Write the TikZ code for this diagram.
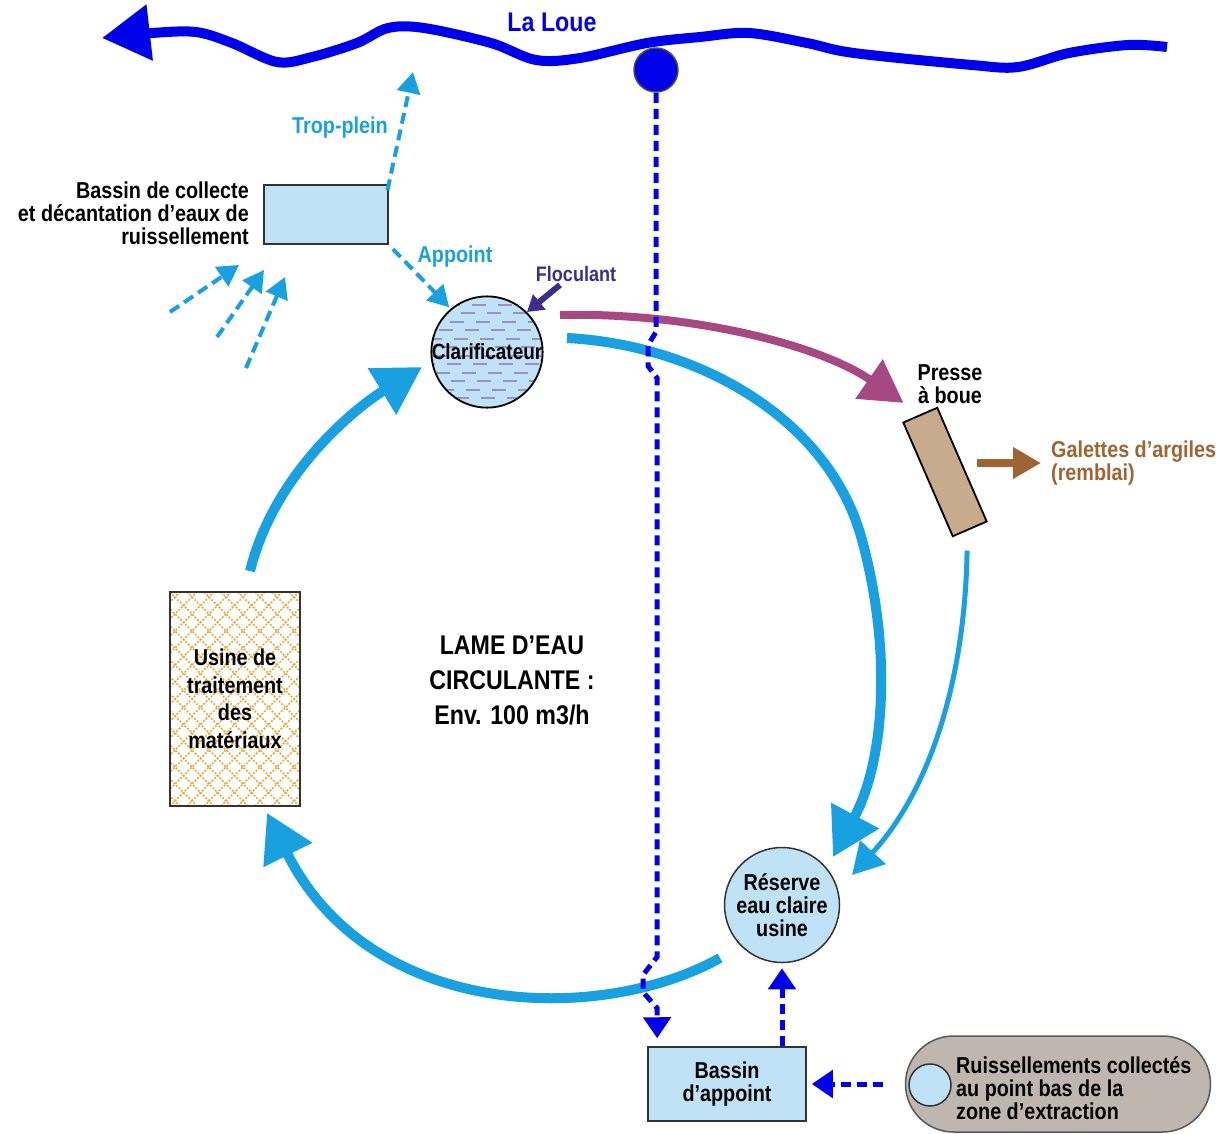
\documentclass[tikz,border=0pt]{standalone}
\usepackage{fontspec}
\setmainfont{Liberation Sans}[FakeStretch=0.86]
\usetikzlibrary{positioning, arrows.meta, calc}
\definecolor{riverblue}{RGB}{0, 0, 235}
\definecolor{flowcyan}{RGB}{25, 160, 225}
\definecolor{waterfill}{RGB}{192, 226, 246}
\definecolor{sludge}{RGB}{168, 72, 130}
\definecolor{flocviolet}{RGB}{62, 45, 140}
\definecolor{claybrown}{RGB}{160, 100, 50}
\definecolor{presstan}{RGB}{200, 170, 140}
\definecolor{pitgray}{RGB}{192, 182, 176}
\definecolor{hatchorange}{RGB}{232, 170, 60}
\definecolor{rippleviolet}{RGB}{160, 140, 200}

\begin{document}
\begin{tikzpicture}[
        x=1pt, y=-1pt,
        txt/.style={font=\fontsize{23}{23}\selectfont\bfseries, align=center, inner sep=0pt},
        basin/.style={draw=black!80, line width=1.5pt, fill=waterfill},
        flow/.style={flowcyan, line width=10pt, -{Triangle[length=47pt, width=52pt]}},
        thinflow/.style={flowcyan, line width=5pt, -{Triangle[length=31pt, width=34pt]}},
        supply/.style={riverblue, line width=5pt, dash pattern=on 10pt off 6pt, -{Triangle[length=21pt, width=27pt]}},
        runoff/.style={flowcyan, line width=4pt, dash pattern=on 11pt off 6pt, -{Triangle[length=21pt, width=23pt]}},
        lattice/.style={hatchorange, line width=1.5pt, dash pattern=on 2pt off 1.5pt}
    ]
    \useasboundingbox (0,0) rectangle (1232,1133);

    % La Loue, flowing to the left
    \draw[riverblue, line width=10pt, -{Triangle[length=48pt, width=54pt]}]
        plot[smooth, tension=0.55] coordinates {(1167,47) (1128,45) (1069,53) (1018,67) (972,65)
        (854,53) (807,43) (749,33) (700,37) (647,43) (580,58) (536,60) (491,43) (424,28) (388,28)
        (357,43) (312,57) (277,62) (232,43) (196,32) (152,33) (102,38)};
    \node[txt, text=riverblue, font=\fontsize{27}{27}\selectfont\bfseries] (loue) at (552,22) {La Loue};
    \node[circle, draw=black!70, line width=1.5pt, fill=riverblue, minimum size=44pt, inner sep=0pt] (pump) at (656,70) {};

    % Bassin de collecte (eaux de ruissellement)
    \node[basin, minimum width=124pt, minimum height=59pt] (collecte) at (326,214.5) {};
    \node[txt, align=right, anchor=east] (collecteLbl) at (249,213) {Bassin de collecte\\et décantation d’eaux de\\ruissellement};
    \coordinate (tropEnd) at (413,72);
    \draw[runoff, shorten <=-6pt] (collecte.north east) -- (tropEnd);
    \node[txt, text=flowcyan] (tropLbl) at (340,128) {Trop-plein};
    \foreach \sx/\sy/\ex/\ey in {170/312/239/265, 217/337/264/270, 246/368/285/277}
        \draw[runoff] (\sx,\sy) -- (\ex,\ey);

    % Clarificateur
    \node[txt, circle, draw=black, line width=1.8pt, fill=waterfill, minimum size=110pt,
        font=\fontsize{22}{22}\selectfont\bfseries,
        path picture={
            \foreach \r in {1,...,12}{
                \pgfmathsetmacro\ph{mod(\r*11,26)}
                \draw[rippleviolet, line width=2pt, dash pattern=on 14pt off 12pt, dash phase=\ph pt]
                    ([yshift=-\r*8.5pt]path picture bounding box.north west) -- ++(120,0);
            }
        }] (clar) at (487,352) {Clarificateur};
    \draw[runoff, shorten <=6pt, shorten >=2pt] (collecte.south east) -- (clar.130);
    \node[txt, text=flowcyan] (appointLbl) at (455,257) {Appoint};
    \node[txt, text=flocviolet, font=\fontsize{21}{21}\selectfont\bfseries] (floc) at (576,274) {Floculant};
    \draw[flocviolet, line width=6pt, -{Triangle[length=16pt, width=19pt]}] ($(floc.south)+(-16,3)$) -- (clar.45);

    % Presse a boue
    \node[draw=black, line width=1.8pt, fill=presstan, minimum width=124pt, minimum height=37pt, rotate=-66.5] (presse) at (945,472) {};
    \node[txt] (presseLbl) at (950,384) {Presse\\à boue};
    \draw[sludge, line width=8pt, -{Triangle[length=42pt, width=46pt]}, shorten >=20pt]
        ($(clar.center)+(73,-37)$) .. controls (690,312) and (820,345) .. (presse.west);
    \node[txt, text=claybrown, align=left, anchor=west] (galettes) at (1051,463) {Galettes d’argiles\\(remblai)};
    \draw[claybrown, line width=8pt, -{Triangle[length=28pt, width=30pt]}] ($(presse.center)+(32,-9)$) -- ([xshift=-10pt]galettes.west);

    % Usine, lame d'eau, reserve
    \node[txt, draw=black!80, line width=1.8pt, fill=white, minimum width=130pt, minimum height=214pt,
        font=\fontsize{23}{27.5}\selectfont\bfseries,
        path picture={
            \foreach \c in {-221,-204,...,136}{
                \draw[lattice] ([xshift=\c pt]path picture bounding box.north west) -- ++(230,230);
                \draw[lattice] ([xshift=\c pt]path picture bounding box.south west) -- ++(230,-230);
            }
        }] (usine) at (235,699) {Usine de\\traitement\\des\\matériaux};
    \node[txt, font=\fontsize{27}{35}\selectfont\bfseries] (lame) at (512,680) {LAME D’EAU\\CIRCULANTE :\\Env. 100 m3/h};
    \node[txt, circle, basin, minimum size=115pt] (reserve) at (782,905) {Réserve\\eau claire\\usine};

    % circulating water
    \draw[flow] ($(usine.north)+(15,-20)$) .. controls (275,470) and (360,405) .. ($(clar.center)+(-65,15)$);
    \draw[flow] ($(clar.center)+(80,-14)$) .. controls (700,345) and (830,420) .. (862,540)
        .. controls (892,650) and (885,760) .. ($(reserve.center)+(51,-48)$);
    \draw[thinflow] ($(presse.east)+(-3,21)$) .. controls (965,680) and (930,790) .. ($(reserve.center)+(70,-30)$);
    \draw[flow] ($(reserve.center)+(-62,53)$) .. controls (600,1025) and (370,1020) .. ($(usine.south)+(32,6)$);

    % Bassin d'appoint and collected runoff
    \node[txt, basin, minimum width=158pt, minimum height=74pt] (appoint) at (727,1084) {Bassin\\d’appoint};
    \node[draw=black!65, line width=1.5pt, fill=pitgray, rounded corners=48pt, minimum width=305pt, minimum height=96pt] (ruiss) at (1058,1084) {};
    \node[basin, circle, minimum size=42pt, inner sep=0pt] (ruissPit) at (930,1085) {};
    \node[txt, align=left, anchor=west] (ruissLbl) at (956,1088) {Ruissellements collectés\\au point bas de la\\zone d’extraction};

    % feeds
    \draw[supply, shorten >=8pt] (pump.south) -- (656,332) -- (648,345) -- (648,366) -- (657,378) -- (657,957)
        -- (643,975) -- (643,992) -- (657,1008) -- ([xshift=10pt]appoint.north west);
    \draw[supply, shorten >=5pt] (appoint.north -| reserve.south) -- (reserve.south);
    \draw[supply, shorten <=22pt, shorten >=5pt] (ruiss.west) -- (appoint.east);

\end{tikzpicture}
\end{document}
